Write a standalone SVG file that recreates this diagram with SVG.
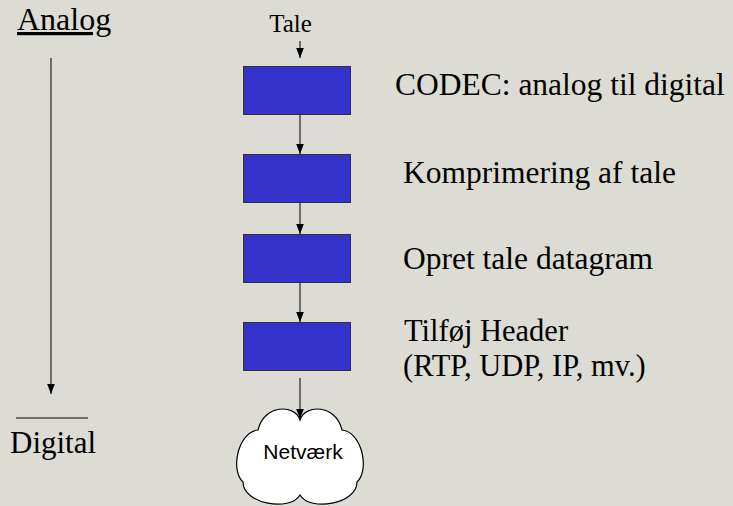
<svg xmlns="http://www.w3.org/2000/svg" width="733" height="506" viewBox="0 0 733 506">
<defs>
<marker id="ah" markerUnits="userSpaceOnUse" markerWidth="10" markerHeight="10" viewBox="0 0 10 10" refX="10" refY="5" orient="auto">
<path d="M0,1.2 L10,5 L0,8.8 Z" fill="#000"/>
</marker>
<style>
.serif{font-family:"Liberation Serif","Times New Roman",serif;fill:#000}
.lbl{font-size:31.5px}
.box{fill:#3333CC;stroke:#333;stroke-width:1}
.conn{stroke:#000;stroke-width:1;fill:none;marker-end:url(#ah)}
</style>
</defs>
<rect x="0" y="0" width="733" height="506" fill="#DCDCD4"/>

<g id="scale">
<text class="serif" x="17" y="30" font-size="32" text-decoration="underline">Analog</text>
<line x1="16" y1="418" x2="88" y2="418" stroke="#000" stroke-width="1"/>
<text class="serif" x="10" y="453" font-size="31">Digital</text>
</g>

<g id="connectors">
<line class="conn" x1="51" y1="58" x2="51" y2="394"/>
<line class="conn" x1="300" y1="41" x2="300" y2="58"/>
<line class="conn" x1="300" y1="114" x2="300" y2="154"/>
<line class="conn" x1="300" y1="202" x2="300" y2="234"/>
<line class="conn" x1="300" y1="282" x2="300" y2="322"/>
<line class="conn" x1="300" y1="378" x2="300" y2="419"/>
</g>

<g id="tale">
<text class="serif" x="290.5" y="32" font-size="25" text-anchor="middle">Tale</text>
</g>

<g id="codec">
<rect class="box" x="243.5" y="66.5" width="107" height="48"/>
<text class="serif lbl" x="395" y="95">CODEC: analog til digital</text>
</g>

<g id="komprimering">
<rect class="box" x="243.5" y="154.5" width="107" height="48"/>
<text class="serif lbl" x="403" y="183">Komprimering af tale</text>
</g>

<g id="datagram">
<rect class="box" x="243.5" y="234.5" width="107" height="48"/>
<text class="serif lbl" x="403" y="269">Opret tale datagram</text>
</g>

<g id="header">
<rect class="box" x="243.5" y="322.5" width="107" height="48"/>
<text class="serif" font-size="30.5" x="404" y="341">Tilføj Header</text>
<text class="serif" font-size="30.5" x="403" y="376">(RTP, UDP, IP, mv.)</text>
</g>

<g id="netvaerk">
<path d="M300,420 C295,404 264,404 258,430 C238,432 230,470 243,482 C243,504 290,512 300,495 C310,512 357,504 357,482 C370,470 362,432 342,430 C336,404 305,404 300,420 Z" fill="#fff" stroke="#000" stroke-width="1.2"/>
<text x="303" y="459" font-family="'Liberation Sans',Arial,sans-serif" font-size="21" text-anchor="middle" fill="#000">Netværk</text>
</g>
</svg>
